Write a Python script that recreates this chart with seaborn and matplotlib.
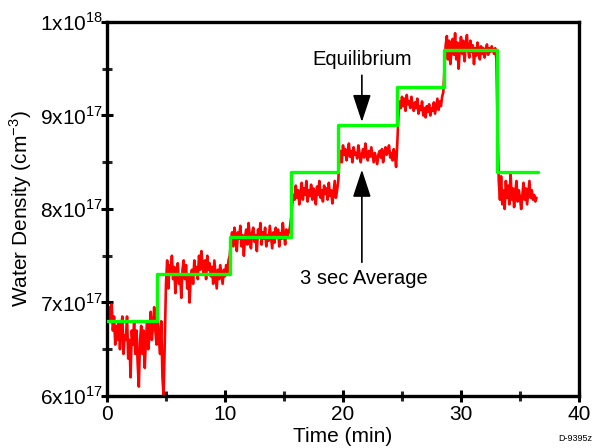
import numpy as np
import pandas as pd
import matplotlib
matplotlib.use("Agg")
import matplotlib.pyplot as plt
import seaborn as sns

# ---- data (water density in units of 1e17 cm^-3) ----
TIME_STEP = 0.1  # minutes between 3-sec-average samples shown
avg_density = [
    # 0.0 - 4.9
    6.55, 6.9, 6.95, 6.8, 6.98, 6.7, 6.85, 6.55, 6.75, 6.6,
    6.8, 6.5, 6.72, 6.85, 6.45, 6.65, 6.6, 6.85, 6.4, 6.6,
    6.2, 6.7, 6.55, 6.8, 6.45, 6.7, 6.35, 6.1, 6.6, 6.75,
    6.45, 6.7, 6.3, 6.6, 6.8, 6.5, 6.65, 6.9, 6.6, 6.75,
    6.95, 6.7, 6.55, 6.85, 6.6, 6.45, 6.8, 6.2, 6.0, 6.6,
    # 5.0 - 10.3
    7.2, 7.45, 7.15, 7.4, 7.3, 7.5, 7.25, 7.38, 7.1, 7.35,
    7.42, 7.2, 7.3, 7.05, 7.35, 7.45, 7.25, 7.4, 7.15, 7.3,
    7.0, 7.28, 7.35, 7.2, 7.45, 7.3, 7.38, 7.25, 7.5, 7.35,
    7.55, 7.4, 7.3, 7.45, 7.25, 7.5, 7.35, 7.42, 7.28, 7.38,
    7.2, 7.45, 7.3, 7.15, 7.35, 7.25, 7.4, 7.3, 7.2, 7.35,
    7.28, 7.4, 7.32, 7.45,
    # 10.4 - 15.5
    7.5, 7.65, 7.75, 7.6, 7.8, 7.7, 7.55, 7.75, 7.68, 7.82,
    7.6, 7.72, 7.5, 7.7, 7.78, 7.62, 7.85, 7.7, 7.58, 7.75,
    7.8, 7.65, 7.72, 7.55, 7.78, 7.7, 7.85, 7.62, 7.75, 7.68,
    7.8, 7.6, 7.72, 7.66, 7.82, 7.7, 7.58, 7.75, 7.64, 7.8,
    7.7, 7.78, 7.6, 7.74, 7.68, 7.85, 7.72, 7.62, 7.78, 7.7,
    7.75, 7.8,
    # 15.6 - 19.5
    7.9, 8.05, 8.15, 8.1, 8.25, 8.12, 8.2, 8.05, 8.18, 8.28,
    8.1, 8.22, 8.15, 8.3, 8.08, 8.2, 8.14, 8.26, 8.1, 8.22,
    8.18, 8.05, 8.24, 8.15, 8.3, 8.12, 8.2, 8.08, 8.25, 8.16,
    8.22, 8.1, 8.28, 8.14, 8.2, 8.06, 8.18, 8.3, 8.12, 8.2,
    # 19.6 - 24.5
    8.3, 8.55, 8.62, 8.5, 8.68, 8.58, 8.64, 8.52, 8.6, 8.7,
    8.56, 8.62, 8.5, 8.66, 8.58, 8.6, 8.54, 8.68, 8.6, 8.5,
    8.58, 8.64, 8.55, 8.7, 8.6, 8.52, 8.62, 8.56, 8.66, 8.58,
    8.5, 8.6, 8.54, 8.48, 8.58, 8.62, 8.55, 8.64, 8.5, 8.6,
    8.66, 8.58, 8.62, 8.68, 8.55, 8.6, 8.52, 8.64, 8.58, 8.45,
    # 24.6 - 28.5
    8.7, 9.0, 9.15, 9.08, 9.2, 9.1, 9.18, 9.05, 9.22, 9.12,
    9.15, 9.08, 9.2, 9.1, 9.05, 9.14, 9.08, 9.18, 9.02, 9.1,
    9.06, 9.15, 9.0, 9.08, 8.98, 9.1, 9.04, 9.12, 9.0, 9.08,
    9.05, 9.14, 9.02, 9.1, 9.18, 9.06, 9.15, 9.1, 9.2, 9.25,
    # 28.6 - 33.0
    9.5, 9.75, 9.85, 9.6, 9.8, 9.55, 9.7, 9.82, 9.65, 9.88,
    9.6, 9.78, 9.5, 9.72, 9.84, 9.66, 9.8, 9.58, 9.75, 9.86,
    9.7, 9.62, 9.8, 9.68, 9.75, 9.55, 9.72, 9.64, 9.78, 9.7,
    9.6, 9.74, 9.66, 9.72, 9.62, 9.7, 9.76, 9.65, 9.72, 9.68,
    9.74, 9.7, 9.66, 9.72, 9.6,
    # 33.1 - 36.4
    8.9, 8.3, 8.1, 8.35, 8.05, 8.2, 8.0, 8.3, 8.12, 8.25,
    8.05, 8.38, 8.1, 8.22, 8.02, 8.18, 8.3, 8.08, 8.2, 8.12,
    8.0, 8.15, 8.28, 8.1, 8.22, 8.05, 8.18, 8.3, 8.12, 8.2,
    8.1, 8.15, 8.08, 8.12,
]
avg_time = [round(i * TIME_STEP, 1) for i in range(len(avg_density))]

eq_time = [0, 4.25, 10.4, 15.6, 19.6, 24.6, 28.6, 33.05, 36.5]
eq_density = [6.8, 7.3, 7.7, 8.4, 8.9, 9.3, 9.7, 8.4, 8.4]

y_ticks = [6, 7, 8, 9, 10]
y_tick_labels = [r"6x10$^{\mathregular{17}}$", r"7x10$^{\mathregular{17}}$",
                 r"8x10$^{\mathregular{17}}$", r"9x10$^{\mathregular{17}}$",
                 r"1x10$^{\mathregular{18}}$"]
x_ticks = [0, 10, 20, 30, 40]

# ---- plot ----
sns.set_style("ticks")
plt.rcParams["font.family"] = ["Liberation Sans", "DejaVu Sans"]
plt.rcParams["mathtext.fontset"] = "custom"
plt.rcParams["mathtext.rm"] = "Liberation Sans"
plt.rcParams["text.color"] = "black"
plt.rcParams["axes.labelcolor"] = "black"

fig = plt.figure(figsize=(5.93, 4.48), dpi=100)
ax = fig.add_axes([0.1804, 0.1161, 0.796, 0.8348])

df_avg = pd.DataFrame({"t": avg_time, "n": avg_density})
df_eq = pd.DataFrame({"t": eq_time, "n": eq_density})

sns.lineplot(data=df_avg, x="t", y="n", ax=ax, color="#ff0000", lw=1.9,
             estimator=None, sort=False, zorder=2)
sns.lineplot(data=df_eq, x="t", y="n", ax=ax, color="#00ff00", lw=2.4,
             drawstyle="steps-post", estimator=None, sort=False, zorder=3)

ax.set_xlim(0, 40)
ax.set_ylim(6, 10)
ax.set_xticks(x_ticks)
ax.set_xticks([5, 15, 25, 35], minor=True)
ax.set_yticks(y_ticks)
ax.set_yticklabels(y_tick_labels)
ax.set_yticks([6.5, 7.5, 8.5, 9.5], minor=True)
ax.tick_params(which="major", direction="inout", length=9, width=2.2,
               labelsize=15, pad=2, colors="black")
ax.tick_params(axis="y", which="major", pad=-1.5)
ax.tick_params(which="minor", direction="inout", length=7, width=2.2)
for s in ax.spines.values():
    s.set_visible(True)
    s.set_linewidth(2.4)
    s.set_color("black")

ax.set_xlabel("Time (min)", fontsize=15, labelpad=2)
ax.set_ylabel(r"Water Density (cm$^{\mathregular{-3}}$)", fontsize=15, labelpad=4)

arrow = dict(arrowstyle="-|>,head_length=0.85,head_width=0.28", color="black",
             lw=1.2, shrinkA=0, shrinkB=0, mutation_scale=20)
ax.annotate("", xy=(21.6, 8.93), xytext=(21.6, 9.43), arrowprops=arrow)
ax.annotate("", xy=(21.6, 8.42), xytext=(21.6, 7.43), arrowprops=arrow)
ax.text(21.6, 9.6, "Equilibrium", fontsize=14.5, ha="center", va="center")
ax.text(21.8, 7.26, "3 sec Average", fontsize=14.5, ha="center", va="center")

fig.text(0.998, 0.012, "D-9395z", fontsize=6.5, ha="right", va="bottom")

fig.savefig("out.png", dpi=100)
